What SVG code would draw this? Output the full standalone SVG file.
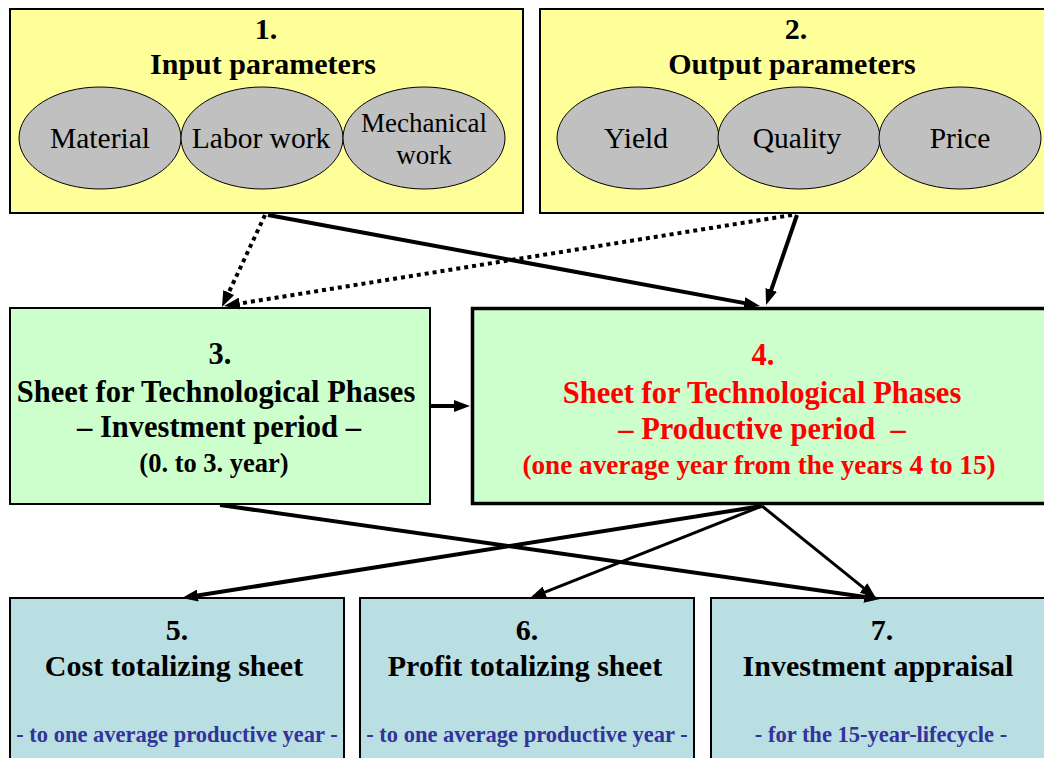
<svg xmlns="http://www.w3.org/2000/svg" width="1044" height="758" viewBox="0 0 1044 758">
<defs>
<style>
text{font-family:"Liberation Serif","Times New Roman",serif;text-anchor:middle;}
.b{font-weight:bold;font-size:30px;fill:#000;}
.m{font-size:30.5px;}
.s{font-weight:bold;font-size:26.5px;}
.s2{font-weight:bold;font-size:27.2px;}
.r{fill:#FF0000;}
.e{font-size:29.5px;fill:#000;}
.e2{font-size:27px;}
.sub{font-weight:bold;font-size:22.5px;fill:#333399;}
.yel{fill:#FFFF99;stroke:#000;stroke-width:2;}
.grn{fill:#CCFFCC;stroke:#000;stroke-width:2;}
.blu{fill:#BADFE3;stroke:#000;stroke-width:2;}
.ell{fill:#C0C0C0;stroke:#000;stroke-width:1;}
.ln{stroke:#000;stroke-width:4;fill:none;marker-end:url(#ah);}
.thin{stroke-width:3;}
.dot{stroke-dasharray:4 4;}
</style>
<marker id="ah" markerUnits="userSpaceOnUse" markerWidth="16" markerHeight="12" refX="10" refY="6" orient="auto">
<path d="M0,0 L16,6 L0,12 z" fill="#000"/>
</marker>
</defs>
<rect width="1044" height="758" fill="#FFFFFF"/>

<g id="node1">
<rect class="yel" x="10" y="9" width="513" height="204"/>
<text class="b" x="266" y="39">1.</text>
<text class="b" x="263" y="74">Input parameters</text>
<ellipse class="ell" cx="100" cy="138" rx="81" ry="51"/>
<ellipse class="ell" cx="262" cy="138" rx="81" ry="51"/>
<ellipse class="ell" cx="424" cy="138" rx="81" ry="51"/>
<text class="e" x="100" y="148">Material</text>
<text class="e" x="261" y="148">Labor work</text>
<text class="e e2" x="424" y="132">Mechanical</text>
<text class="e e2" x="424" y="164">work</text>
</g>

<g id="node2">
<rect class="yel" x="540" y="9" width="508" height="204"/>
<text class="b" x="796" y="39">2.</text>
<text class="b" x="792" y="74">Output parameters</text>
<ellipse class="ell" cx="638" cy="138" rx="81" ry="51"/>
<ellipse class="ell" cx="799" cy="138" rx="81" ry="51"/>
<ellipse class="ell" cx="960" cy="138" rx="81" ry="51"/>
<text class="e" x="636" y="148">Yield</text>
<text class="e" x="797" y="148">Quality</text>
<text class="e" x="960" y="148">Price</text>
</g>

<g id="node3">
<rect class="grn" x="10" y="308" width="420" height="196"/>
<text class="b m" x="220" y="364">3.</text>
<text class="b m" x="216" y="402">Sheet for Technological Phases</text>
<text class="b m" x="219" y="437">– Investment period –</text>
<text class="s" x="214" y="472">(0. to 3. year)</text>
</g>

<g id="node4">
<rect class="grn" x="472.5" y="308.5" width="585" height="195" style="stroke-width:3.5"/>
<text class="b m r" x="763" y="365">4.</text>
<text class="b m r" x="762" y="403">Sheet for Technological Phases</text>
<text class="b m r" x="762" y="439" style="white-space:pre">– Productive period  –</text>
<text class="s2 r" x="759" y="474">(one average year from the years 4 to 15)</text>
</g>

<g id="node5">
<rect class="blu" x="10" y="598" width="334" height="170"/>
<text class="b" x="177" y="640">5.</text>
<text class="b" x="174" y="676">Cost totalizing sheet</text>
<text class="sub" x="177" y="742">- to one average productive year -</text>
</g>

<g id="node6">
<rect class="blu" x="360" y="598" width="334" height="170"/>
<text class="b" x="527" y="640">6.</text>
<text class="b" x="525" y="676">Profit totalizing sheet</text>
<text class="sub" x="527" y="742">- to one average productive year -</text>
</g>

<g id="node7">
<rect class="blu" x="711" y="598" width="340" height="170"/>
<text class="b" x="882" y="640">7.</text>
<text class="b" x="878" y="676">Investment appraisal</text>
<text class="sub" x="881" y="742">- for the 15-year-lifecycle -</text>
</g>

<g id="connectors">
<line class="ln dot" x1="265" y1="215" x2="224.5" y2="301.6"/>
<line class="ln dot" x1="792" y1="215" x2="229.9" y2="305.1"/>
<line class="ln" x1="268" y1="215" x2="754.1" y2="304.9"/>
<line class="ln" x1="797" y1="215" x2="768" y2="299.3"/>
<line class="ln" x1="430" y1="406" x2="464" y2="406"/>
<line class="ln" x1="220" y1="505" x2="874.1" y2="598.2"/>
<line class="ln" x1="762" y1="506" x2="187.9" y2="597.1"/>
<line class="ln thin" x1="762" y1="506" x2="535.6" y2="595.8"/>
<line class="ln thin" x1="762" y1="506" x2="871.3" y2="594.2"/>
</g>
</svg>
